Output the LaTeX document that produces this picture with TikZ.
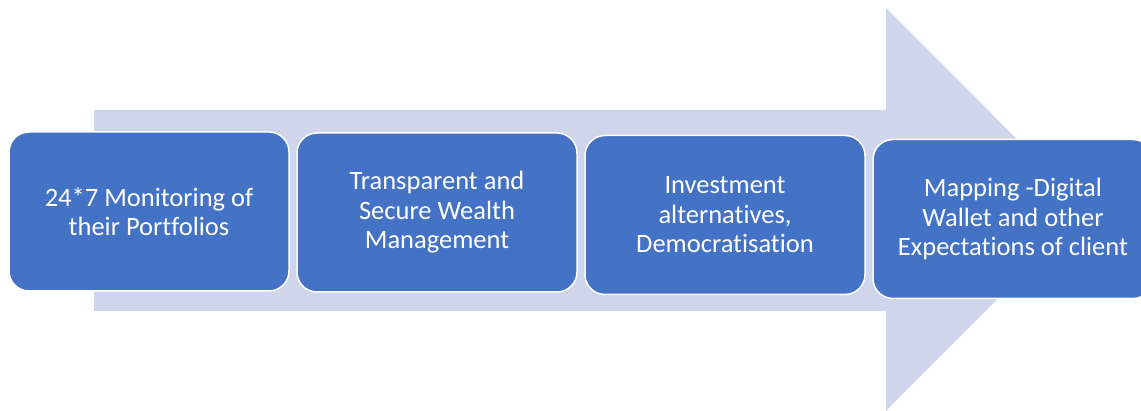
\documentclass[tikz,border=0pt]{standalone}
\usepackage{fontspec}
\setmainfont[Ligatures=NoCommon]{Carlito}
\definecolor{arrowfill}{HTML}{CFD5EA}
\definecolor{boxfill}{HTML}{4472C4}
\tikzset{
  stepbox/.style={draw=white, line width=1.5pt, fill=boxfill, rounded corners=20pt,
    minimum width=280pt, minimum height=159pt, align=center, text=white,
    inner sep=0pt, font=\fontsize{26.5}{29.5}\selectfont}
}
\begin{document}
\begin{tikzpicture}[x=1pt,y=-1pt]
  \clip (0,0) rectangle (1141,411);
  % background process arrow
  \fill[arrowfill] (94,110) -- (886,110) -- (886,8) -- (1087,209.5)
    -- (886,411) -- (886,311) -- (94,311) -- cycle;
  % process steps
  \node[stepbox] (s1) at (149,211.5) {24*7 Monitoring of\\their Portfolios};
  \node[stepbox] (s2) at (437,212.5) {Transparent and\\Secure Wealth\\Management};
  \node[stepbox] (s3) at (725,215) {Investment\\alternatives,\\Democratisation};
  \node[stepbox] (s4) at (1013,219) {Mapping -Digital\\Wallet and other\\Expectations of client};
\end{tikzpicture}
\end{document}
